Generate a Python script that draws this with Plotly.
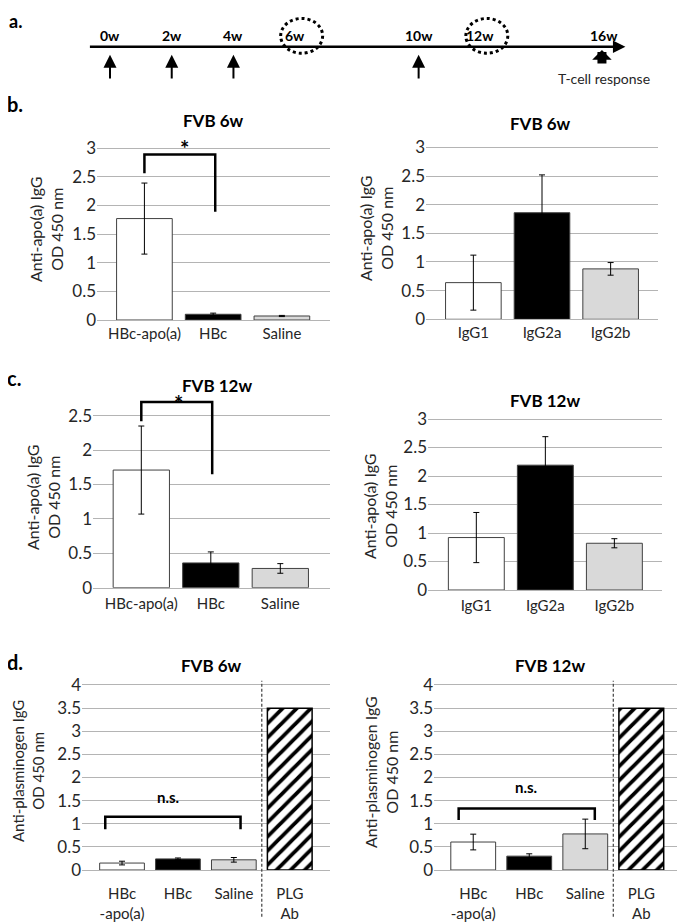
import plotly.graph_objects as go

W, H = 685, 923
OFF = 8  # page body margin in the browser

# ---- a. timeline (weeks) ----
weeks = [0, 2, 4, 6, 10, 12, 16]
week_labels = ["0w", "2w", "4w", "6w", "10w", "12w", "16w"]
immunisation_weeks = [0, 2, 4, 10]
bleed_weeks = [6, 12]
tcell_week = 16
timeline_start, timeline_end = -0.7, 16.7

# ---- b. FVB 6w ----
groups = ["HBc-apo(a)", "HBc", "Saline"]
subclasses = ["IgG1", "IgG2a", "IgG2b"]
b_total = [1.77, 0.10, 0.07]
b_total_err = [0.62, 0.02, 0.01]
b_sub = [0.64, 1.86, 0.88]
b_sub_err = [0.48, 0.66, 0.11]

# ---- c. FVB 12w ----
c_total = [1.71, 0.36, 0.28]
c_total_err = [0.64, 0.16, 0.07]
c_sub = [0.92, 2.19, 0.82]
c_sub_err = [0.44, 0.50, 0.08]

# ---- d. anti-plasminogen ----
d_groups = ["HBc<br>-apo(a)", "HBc", "Saline", "PLG<br>Ab"]
d6 = [0.15, 0.24, 0.22]
d6_err = [0.04, 0.02, 0.05]
d12 = [0.605, 0.30, 0.78]
d12_err = [0.17, 0.05, 0.32]
plg_ab = 3.5

# significance brackets (x in bar index, y in OD)
b_bracket_x, b_bracket_y = [0, 0, 1.03, 1.03], [2.56, 2.89, 2.89, 1.89]
c_bracket_x, c_bracket_y = [0, 0, 1.02, 1.02], [2.42, 2.70, 2.70, 1.65]
d6_bracket_x, d6_bracket_y = [-0.3, -0.3, 2.12, 2.12], [0.88, 1.15, 1.15, 0.88]
d12_bracket_x, d12_bracket_y = [-0.26, -0.26, 2.17, 2.17], [1.08, 1.33, 1.33, 1.08]

COLORS = ["white", "black", "#d9d9d9"]
GRID = "#b4b4b4"
EDGE = "#404040"
TXT = "#262626"
FONT = "Lato"


def px(x, y):
    return (x - OFF) / W, 1 - (y - OFF) / H


fig = go.Figure()
ann = []
shapes = []

# timeline subplot: line at y=0, window rows 8..85.4
fig.add_trace(go.Scatter(x=weeks, y=[0] * len(weeks), mode="markers",
                         marker=dict(size=1, opacity=0), hoverinfo="skip",
                         showlegend=False, xaxis="x", yaxis="y"))
fig.update_layout(
    xaxis=dict(domain=[0, 1], range=[-3.305, 18.89], visible=False, anchor="y",
               automargin=False),
    yaxis=dict(domain=[1 - (85.4 - OFF) / H, 1], range=[-1, 1], visible=False,
               anchor="x", automargin=False),
)
ann.append(dict(x=timeline_end, y=0, ax=timeline_start, ay=0, xref="x", yref="y",
                axref="x", ayref="y", showarrow=True, arrowhead=2, arrowsize=1,
                arrowwidth=2.5, arrowcolor="black", text=""))
for w, lab in zip(weeks, week_labels):
    ann.append(dict(x=w, y=0.30, xref="x", yref="y", text="<b>%s</b>" % lab,
                    xanchor="center", yanchor="middle",
                    showarrow=False, font=dict(size=14, color="black")))
for w in immunisation_weeks:
    ann.append(dict(x=w, y=-0.21, ax=w, ay=-0.86, xref="x", yref="y", axref="x",
                    ayref="y", showarrow=True, arrowhead=2, arrowsize=1.3,
                    arrowwidth=2, arrowcolor="black", text=""))
ann.append(dict(x=tcell_week - 0.06, y=-0.085, ax=tcell_week - 0.06, ay=-0.47, xref="x",
                yref="y", axref="x", ayref="y", showarrow=True, arrowhead=1,
                arrowsize=0.36, arrowwidth=9, arrowcolor="black", text=""))
ann.append(dict(x=tcell_week, y=-0.83, xref="x", yref="y", text="T-cell response",
                xanchor="center", yanchor="middle",
                showarrow=False, font=dict(size=14, color=TXT)))
for w in bleed_weeks:
    shapes.append(dict(type="circle", xref="x", yref="y", x0=w + 0.21 - 0.68,
                       x1=w + 0.21 + 0.68, y0=-0.17, y1=0.73,
                       line=dict(color="black", width=3, dash="dot")))


def panel(n, box, xrange, ymax, ticktext, standoff=0):
    x0, x1, ybot, unit = box
    ytop = ybot - ymax * unit
    fig.layout["xaxis%d" % n] = dict(
        domain=[(x0 - OFF) / W, min((x1 - OFF) / W, 1)], range=xrange, anchor="y%d" % n,
        automargin=False, tickmode="array", tickvals=list(range(len(ticktext))),
        ticktext=ticktext, showgrid=False, zeroline=False, showline=True,
        linecolor=GRID, ticks="", ticklabelstandoff=standoff,
        tickfont=dict(size=15, color=TXT))
    fig.layout["yaxis%d" % n] = dict(
        domain=[1 - (ybot - OFF) / H, 1 - (ytop - OFF) / H], range=[0, ymax],
        anchor="x%d" % n, automargin=False, tickmode="linear", tick0=0, dtick=0.5,
        showgrid=True, gridcolor=GRID, zeroline=False, showline=False, ticks="",
        tickfont=dict(size=17, color=TXT))


def bars(n, vals, errs, width):
    fig.add_trace(go.Bar(
        x=list(range(len(vals))), y=vals, width=width,
        marker=dict(color=COLORS[:len(vals)], line=dict(color=EDGE, width=1)),
        error_y=dict(type="data", array=errs, color="black", thickness=1, width=3),
        xaxis="x%d" % n, yaxis="y%d" % n, showlegend=False))


def bracket(n, xs, ys):
    fig.add_trace(go.Scatter(x=xs, y=ys, mode="lines", line=dict(color="black", width=2.5),
                             xaxis="x%d" % n, yaxis="y%d" % n, showlegend=False,
                             hoverinfo="skip"))


def text_px(x, y, text, size, bold=False, angle=0):
    xx, yy = px(x, y)
    ann.append(dict(x=xx, y=yy, xref="paper", yref="paper", showarrow=False,
                    xanchor="center", yanchor="middle",
                    text="<b>%s</b>" % text if bold else text, textangle=angle,
                    font=dict(size=size, color="black" if bold else TXT)))


def star(n, x, y):
    ann.append(dict(x=x, y=y, xref="x%d" % n, yref="y%d" % n, text="<b>*</b>",
                    xanchor="center", yanchor="middle", showarrow=False,
                    font=dict(size=22, color="black")))


# b. left / right
panel(2, (97, 330, 320, 57.3), [-0.69, 2.70], 3.25, groups)
bars(2, b_total, b_total_err, 0.81)
bracket(2, b_bracket_x, b_bracket_y)
star(2, 0.58, 3.0)
panel(3, (426, 658, 319.3, 57.3), [-0.69, 2.69], 3.05, subclasses)
bars(3, b_sub, b_sub_err, 0.81)

# c. left / right
panel(4, (93, 330, 587.7, 68.8), [-0.695, 2.715], 2.8, groups, standoff=2)
bars(4, c_total, c_total_err, 0.81)
bracket(4, c_bracket_x, c_bracket_y)
star(4, 0.53, 2.68)
panel(5, (428, 662, 590, 57), [-0.70, 2.69], 3.05, subclasses, standoff=2)
bars(5, c_sub, c_sub_err, 0.81)

# d. left / right
for n, box, xr, vals, errs, bx, by, ns in [
        (6, (82, 330, 870, 46.25), [-0.716, 3.72], d6, d6_err, d6_bracket_x, d6_bracket_y, (0.83, 1.58)),
        (7, (434, 685, 870, 46.25), [-0.70, 3.78], d12, d12_err, d12_bracket_x, d12_bracket_y, (0.95, 1.80))]:
    panel(n, box, xr, 4.05, d_groups, standoff=10)
    bars(n, vals, errs, 0.8)
    fig.add_trace(go.Bar(
        x=[3], y=[plg_ab], width=0.8,
        marker=dict(color="white", line=dict(color="black", width=1.5),
                    pattern=dict(shape="/", fgcolor="black", bgcolor="white", size=10,
                                 solidity=0.38, fgopacity=1)),
        xaxis="x%d" % n, yaxis="y%d" % n, showlegend=False))
    bracket(n, bx, by)
    ann.append(dict(x=ns[0], y=ns[1], xref="x%d" % n, yref="y%d" % n, text="<b>n.s.</b>",
                    xanchor="center", yanchor="middle",
                    showarrow=False, font=dict(size=15, color="black")))
    shapes.append(dict(type="line", xref="x%d" % n, yref="y%d domain" % n, x0=2.5, x1=2.5,
                       y0=-0.25, y1=1.01, line=dict(color=EDGE, width=1.2, dash="3px,2px")))

# titles
text_px(213, 120, "FVB 6w", 17, bold=True)
text_px(540, 123, "FVB 6w", 17, bold=True)
text_px(217, 385, "FVB 12w", 17, bold=True)
text_px(545, 400, "FVB 12w", 17, bold=True)
text_px(211, 665, "FVB 6w", 17, bold=True)
text_px(550, 665, "FVB 12w", 17, bold=True)

# panel letters
text_px(15, 21, "a.", 18, bold=True)
text_px(15, 104, "b.", 20, bold=True)
text_px(14, 378, "c.", 20, bold=True)
text_px(15, 662, "d.", 20, bold=True)

# y titles
apo_title = "Anti-apo(a) IgG<br>OD 450 nm"
plg_title = "Anti-plasminogen IgG<br>OD 450 nm"
text_px(46, 229, apo_title, 16, angle=-90)
text_px(376, 228, apo_title, 16, angle=-90)
text_px(43, 497, apo_title, 16, angle=-90)
text_px(380, 506, apo_title, 16, angle=-90)
text_px(28, 771, plg_title, 15, angle=-90)
text_px(381, 772, plg_title, 16, angle=-90)

fig.update_layout(
    template="none",
    width=W, height=H, margin=dict(l=0, r=0, t=0, b=0, pad=0),
    paper_bgcolor="white", plot_bgcolor="white",
    font=dict(family=FONT, color=TXT),
    barmode="overlay", annotations=ann, shapes=shapes,
)

fig.write_html("out.html")
